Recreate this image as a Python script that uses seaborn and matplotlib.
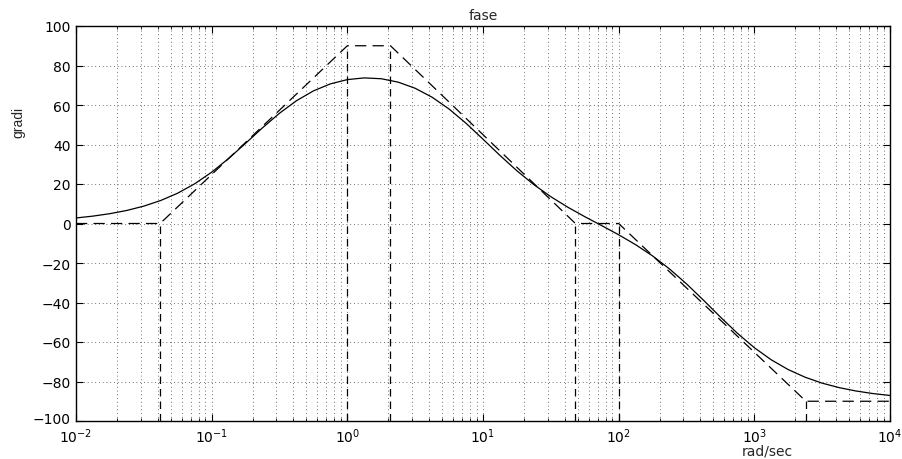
import matplotlib
matplotlib.use("Agg")
import matplotlib.pyplot as plt
import matplotlib.transforms as mtransforms
import seaborn as sns
import numpy as np
import pandas as pd
from matplotlib.ticker import LogLocator, FixedLocator

# ---- data ----
# solid curve: log10(frequency) and phase in degrees
log_w = [-2.0, -1.875, -1.75, -1.625, -1.5, -1.375, -1.25, -1.125,
         -1.0, -0.875, -0.75, -0.625, -0.5, -0.375, -0.25, -0.125,
         0.0, 0.125, 0.25, 0.375, 0.5, 0.625, 0.75, 0.875,
         1.0, 1.125, 1.25, 1.375, 1.5, 1.625, 1.75, 1.875,
         2.0, 2.125, 2.25, 2.375, 2.5, 2.625, 2.75, 2.875,
         3.0, 3.125, 3.25, 3.375, 3.5, 3.625, 3.75, 3.875, 4.0]
phase = [2.80, 3.74, 4.98, 6.62, 8.80, 11.66, 15.37, 20.11,
         25.98, 32.91, 40.60, 48.46, 55.83, 62.16, 67.14, 70.70,
         72.86, 73.72, 73.30, 71.57, 68.47, 63.93, 57.96, 50.75,
         42.70, 34.47, 26.68, 19.68, 13.57, 8.25, 3.46, -1.08,
         -5.71, -10.73, -16.42, -23.02, -30.55, -38.82, -47.36, -55.57,
         -62.88, -69.03, -73.98, -77.85, -80.84, -83.10, -84.82, -86.11, -87.08]

# dashed asymptotic approximation (corner points)
asym_w = [0.01, 0.0417, 1.0, 2.08, 48.0, 100.0, 2400.0, 10000.0]
asym_phase = [0, 0, 90, 90, 0, 0, -90, -90]

# vertical dashed drop lines at the corners
drop_w = [0.0417, 1.0, 2.08, 48.0, 100.0, 2400.0]
drop_top = [0, 90, 90, 0, 0, -90]

y_ticks = [-100, -80, -60, -40, -20, 0, 20, 40, 60, 80, 100]
x_ticks = [1e-2, 1e-1, 1e0, 1e1, 1e2, 1e3, 1e4]

title_text = "fase"
x_label = "rad/sec"
y_label = "gradi"

# ---- figure ----
sns.set_style("ticks")
plt.rcParams["font.family"] = ["DejaVu Sans"]
plt.rcParams["mathtext.fontset"] = "dejavusans"

fig = plt.figure(figsize=(9.03, 4.60), dpi=100)
ax = fig.add_axes([76 / 903, 1 - 422 / 460, (890 - 76) / 903, (422 - 27) / 460])

df_curve = pd.DataFrame({"w": 10 ** np.array(log_w), "phase": phase})
df_asym = pd.DataFrame({"w": asym_w, "phase": asym_phase})

sns.lineplot(data=df_curve, x="w", y="phase", ax=ax, color="black",
             linewidth=0.9, sort=False, zorder=3)
sns.lineplot(data=df_asym, x="w", y="phase", ax=ax, color="black",
             linewidth=0.9, sort=False, zorder=3)
ax.lines[-1].set_linestyle((0, (9, 5)))
ax.vlines(drop_w, [-100] * len(drop_w), drop_top, colors="black",
          linewidth=0.9, linestyles=[(0, (6, 4))], zorder=3)

ax.set_xscale("log")
ax.set_xlim(1e-2, 1e4)
ax.set_ylim(-100, 100)
ax.xaxis.set_major_locator(FixedLocator(x_ticks))
ax.xaxis.set_minor_locator(LogLocator(base=10, subs=np.arange(2, 10), numticks=20))
ax.yaxis.set_major_locator(FixedLocator(y_ticks))

grid_style = dict(color="#444444", linewidth=0.6, linestyle=(0, (1, 3.5)))
ax.grid(True, which="major", axis="both", **grid_style)
ax.grid(True, which="minor", axis="x", **grid_style)

for s in ax.spines.values():
    s.set_linewidth(1.0)
    s.set_color("black")
    s.set_visible(True)

ax.tick_params(which="both", direction="in", top=True, right=True,
               labelsize=10, colors="black")
ax.tick_params(which="major", length=5, width=0.8)
ax.tick_params(which="minor", length=2.5, width=0.6)
ax.tick_params(axis="x", which="major", pad=4)
ax.tick_params(axis="y", which="major", pad=4)

# nudge the lowest y label up a little so it clears the first x label
fig.canvas.draw()
lowest = ax.get_yticklabels()[0]
lowest.set_transform(lowest.get_transform() +
                     mtransforms.ScaledTranslation(0, 3 / 100, fig.dpi_scale_trans))

ax.set_title(title_text, fontsize=10, pad=5)
ax.set_xlabel(x_label, fontsize=10)
ax.set_ylabel(y_label, fontsize=10, family=["Liberation Sans", "DejaVu Sans"])
ax.xaxis.set_label_coords((767 - 76) / 814, (422 - 445) / 395)
ax.yaxis.set_label_coords((25 - 76) / 814, (422 - 122) / 395)

fig.savefig("out.png", dpi=100)
